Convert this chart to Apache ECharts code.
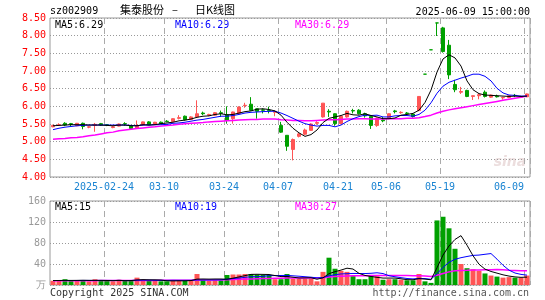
<!DOCTYPE html>
<html>
<head>
<meta charset="utf-8">
<script src="https://cdn.jsdelivr.net/npm/echarts@6/dist/echarts.min.js"></script>
<style>
html, body { margin: 0; padding: 0; background: #fff; }
#chart { width: 545px; height: 300px; }
</style>
</head>
<body>
<div id="chart"></div>
<script>
// trading days shown, one candle each
const dates = [
  '2025-02-11','2025-02-12','2025-02-13','2025-02-14','2025-02-17','2025-02-18','2025-02-19','2025-02-20','2025-02-21','2025-02-24',
  '2025-02-25','2025-02-26','2025-02-27','2025-02-28','2025-03-03','2025-03-04','2025-03-05','2025-03-06','2025-03-07','2025-03-10',
  '2025-03-11','2025-03-12','2025-03-13','2025-03-14','2025-03-17','2025-03-18','2025-03-19','2025-03-20','2025-03-21','2025-03-24',
  '2025-03-25','2025-03-26','2025-03-27','2025-03-28','2025-03-31','2025-04-01','2025-04-02','2025-04-03','2025-04-07','2025-04-08',
  '2025-04-09','2025-04-10','2025-04-11','2025-04-14','2025-04-15','2025-04-16','2025-04-17','2025-04-18','2025-04-21','2025-04-22',
  '2025-04-23','2025-04-24','2025-04-25','2025-04-28','2025-04-29','2025-04-30','2025-05-06','2025-05-07','2025-05-08','2025-05-09',
  '2025-05-12','2025-05-13','2025-05-14','2025-05-15','2025-05-16','2025-05-19','2025-05-20','2025-05-21','2025-05-22','2025-05-23',
  '2025-05-26','2025-05-27','2025-05-28','2025-05-29','2025-05-30','2025-06-03','2025-06-04','2025-06-05','2025-06-06','2025-06-09'
]
const tickDates = ['2025-02-24','2025-03-10','2025-03-24','2025-04-07','2025-04-21','2025-05-06','2025-05-19','2025-06-09']

const open = [
  5.42,5.47,5.52,5.51,5.45,5.52,5.41,5.46,5.51,5.48, 5.40,5.44,5.51,5.45,5.38,5.47,5.56,5.50,5.55,5.58,
  5.57,5.66,5.72,5.63,5.70,5.81,5.75,5.75,5.82,5.76, 5.65,5.80,6.02,6.06,5.93,5.90,5.88,5.83,5.46,5.18,
  4.78,5.15,5.21,5.32,5.52,5.70,5.86,5.79,5.51,5.70, 5.88,5.89,5.79,5.71,5.46,5.61,5.66,5.87,5.82,5.81,
  5.78,5.88,6.91,7.60,8.36,8.22,7.73,6.62,6.40,6.45, 6.28,6.30,6.40,6.26,6.29,6.24,6.25,6.31,6.26,6.27
]
const close = [
  5.46,5.48,5.47,5.49,5.52,5.43,5.42,5.49,5.47,5.47, 5.42,5.50,5.50,5.37,5.46,5.56,5.48,5.55,5.51,5.57,
  5.65,5.68,5.62,5.70,5.79,5.79,5.77,5.82,5.80,5.60, 5.84,5.98,6.03,5.89,5.86,5.89,5.87,5.85,5.27,4.87,
  5.06,5.22,5.33,5.50,5.54,6.09,5.84,5.51,5.72,5.86, 5.87,5.79,5.73,5.46,5.67,5.59,5.79,5.85,5.83,5.80,
  5.71,6.28,6.91,7.60,8.36,7.55,6.89,6.47,6.42,6.28, 6.30,6.33,6.28,6.32,6.27,6.25,6.30,6.30,6.27,6.35
]
const high = [
  5.48,5.52,5.55,5.53,5.53,5.54,5.44,5.53,5.53,5.50, 5.44,5.51,5.55,5.46,5.60,5.57,5.58,5.56,5.57,5.61,
  5.66,5.75,5.74,5.72,6.17,5.85,5.79,5.84,5.88,6.00, 5.85,6.00,6.10,6.26,5.94,5.94,5.99,5.88,5.56,5.18,
  5.09,5.25,5.37,5.52,5.58,6.09,5.92,5.80,5.74,5.88, 5.93,5.92,5.82,5.72,5.68,5.70,5.80,5.90,5.86,5.84,
  5.81,6.28,6.91,7.60,8.36,8.25,7.88,6.75,6.55,6.47, 6.31,6.37,6.45,6.33,6.33,6.27,6.31,6.35,6.30,6.36
]
const low = [
  5.41,5.45,5.44,5.44,5.44,5.35,5.38,5.28,5.45,5.44, 5.38,5.43,5.45,5.36,5.37,5.45,5.47,5.48,5.50,5.55,
  5.56,5.63,5.60,5.62,5.68,5.75,5.72,5.73,5.70,5.51, 5.51,5.78,5.96,5.88,5.65,5.80,5.80,5.72,5.25,4.74,
  4.47,5.12,5.19,5.31,5.48,5.68,5.70,5.45,5.49,5.68, 5.80,5.77,5.68,5.36,5.42,5.55,5.64,5.80,5.79,5.76,
  5.68,5.86,6.91,7.60,7.99,7.52,6.77,6.40,6.35,6.26, 6.18,6.20,6.25,6.24,6.25,6.19,6.23,6.26,6.24,6.26
]
const ma5 = [
  5.45,5.46,5.47,5.48,5.48,5.48,5.47,5.47,5.47,5.46, 5.45,5.47,5.47,5.45,5.45,5.48,5.47,5.48,5.51,5.53,
  5.55,5.59,5.61,5.64,5.69,5.72,5.73,5.77,5.79,5.76, 5.77,5.81,5.85,5.87,5.92,5.93,5.91,5.87,5.75,5.55,
  5.38,5.25,5.15,5.20,5.33,5.54,5.66,5.70,5.74,5.80, 5.76,5.75,5.79,5.74,5.70,5.65,5.65,5.67,5.75,5.77,
  5.80,5.89,6.11,6.46,6.97,7.34,7.46,7.37,7.14,6.72, 6.47,6.36,6.32,6.31,6.30,6.29,6.28,6.29,6.28,6.29
]
const ma10 = [
  5.34,5.38,5.41,5.43,5.45,5.46,5.47,5.47,5.47,5.47, 5.47,5.47,5.47,5.46,5.45,5.47,5.47,5.48,5.48,5.49,
  5.52,5.53,5.55,5.58,5.61,5.63,5.66,5.69,5.72,5.72, 5.74,5.77,5.81,5.83,5.84,5.85,5.86,5.86,5.81,5.74,
  5.66,5.58,5.51,5.47,5.44,5.46,5.46,5.42,5.47,5.57, 5.65,5.71,5.75,5.74,5.75,5.70,5.70,5.73,5.74,5.74,
  5.72,5.77,5.89,6.10,6.37,6.57,6.68,6.74,6.80,6.85, 6.91,6.91,6.85,6.72,6.51,6.38,6.32,6.31,6.29,6.29
]
const ma30 = [
  5.07,5.08,5.09,5.11,5.12,5.14,5.17,5.19,5.22,5.25, 5.27,5.31,5.33,5.35,5.37,5.39,5.41,5.42,5.44,5.46,
  5.47,5.49,5.51,5.52,5.53,5.54,5.56,5.57,5.58,5.59, 5.60,5.61,5.62,5.63,5.63,5.64,5.64,5.64,5.62,5.61,
  5.60,5.60,5.59,5.59,5.60,5.61,5.62,5.62,5.63,5.64, 5.64,5.65,5.65,5.64,5.64,5.64,5.65,5.65,5.65,5.66,
  5.66,5.68,5.71,5.75,5.81,5.86,5.90,5.93,5.96,5.99, 6.02,6.05,6.08,6.11,6.14,6.17,6.20,6.23,6.26,6.29
]

// volume, 万
const volume = [
  8,8,11,8,9,9,7,11,8,8, 7,10,8,9,14,10,8,8,7,7,
  9,9,8,9,21,10,8,9,9,19, 20,20,21,21,20,19,19,11,11,21,
  12,12,12,12,7,25,52,31,27,25, 17,11,11,17,17,10,11,11,10,9,
  9,21,7,4,123,130,108,69,40,32, 30,27,22,18,16,14,15,14,14,18
]
const vma5 = [
  8.5,8.6,8.8,8.7,8.8,9.0,8.8,8.8,8.8,8.6, 8.2,8.8,8.2,8.4,9.6,10.2,9.8,9.8,9.4,8.0,
  7.8,8.0,8.0,8.4,11.2,11.4,11.2,11.4,11.4,11.0, 13.0,15.4,17.8,20.2,20.4,20.2,20.0,18.0,16.0,16.2,
  14.8,13.4,13.6,13.8,11.0,13.6,21.6,25.4,28.4,32.0, 30.4,22.2,18.2,16.2,14.6,13.2,13.2,13.2,11.8,10.2,
  10.0,12.0,11.2,10.0,32.8,57.0,74.4,86.8,94.0,75.8, 55.8,39.6,30.2,25.8,22.6,19.4,17.0,15.4,14.6,15.0
]
const vma10 = [
  8.5,8.5,8.6,8.6,8.6,8.7,8.7,8.7,8.7,8.7, 8.6,8.8,8.5,8.6,9.1,9.2,9.3,9.0,8.9,8.8,
  9.0,8.9,8.9,8.9,9.6,9.6,9.6,9.7,9.9,11.1, 12.2,13.3,14.6,15.8,15.7,16.6,17.7,17.9,18.1,18.3,
  17.5,16.7,15.8,14.9,13.6,14.2,17.5,19.5,21.1,21.5, 22.0,21.9,21.8,22.3,23.3,21.8,17.7,15.7,14.0,12.4,
  11.6,12.6,12.2,10.9,21.5,33.5,43.2,49.0,52.0,54.3, 56.4,57.0,58.5,59.9,49.2,37.6,28.3,22.8,20.2,18.8
]
const vma30 = [
  8.0,8.0,8.1,8.1,8.2,8.2,8.3,8.3,8.4,8.4, 8.5,8.5,8.6,8.6,8.7,8.7,8.8,8.8,8.9,8.9,
  9.0,9.0,9.1,9.1,9.4,9.5,9.5,9.6,9.6,10.0, 10.4,10.8,11.2,11.6,12.0,12.3,12.6,12.7,12.8,13.2,
  13.3,13.4,13.5,13.5,13.4,13.9,15.4,16.1,16.8,17.3, 17.6,17.7,17.8,18.1,18.3,18.3,18.3,18.2,18.1,17.9,
  17.6,17.5,17.0,16.2,18.5,22.0,25.0,27.0,27.8,28.1, 28.5,28.8,29.0,29.1,29.3,29.0,28.0,27.6,27.2,27.0
]

const UP = '#ff5555'
const DOWN = '#00a000'
const MONO = 'DejaVu Sans Mono'
const CJK = 'Noto Sans CJK SC'

const candles = dates.map((d, i) => [open[i], close[i], low[i], high[i]])
const volBars = volume.map((v, i) => ({
  value: v,
  itemStyle: { color: close[i] > open[i] ? UP : DOWN }
}))

const tickIdx = tickDates.map(d => dates.indexOf(d))
const isTick = (index) => tickIdx.indexOf(index) >= 0

function txt (text, x, y, color, font, align) {
  return {
    type: 'text',
    x: x,
    y: y,
    silent: true,
    style: { text: text, fill: color, font: font, align: align || 'left', verticalAlign: 'middle' }
  }
}

const chart = echarts.init(document.getElementById('chart'), null, { renderer: 'canvas' })
chart.setOption({
  animation: false,
  backgroundColor: '#fff',
  grid: [
    { left: 50, top: 18, width: 480, height: 159, show: true, borderColor: '#999', borderWidth: 1 },
    { left: 50, top: 201, width: 480, height: 84, show: true, borderColor: '#999', borderWidth: 1 }
  ],
  xAxis: [
    {
      type: 'category',
      gridIndex: 0,
      data: dates,
      boundaryGap: true,
      axisLine: { show: false },
      axisTick: { show: false },
      axisLabel: {
        interval: (index) => isTick(index),
        margin: 5,
        formatter: (value, index) => {
          const t = index === tickIdx[0] ? value : value.slice(5)
          // labels sit centred on the grid line, the last one ends at it
          return index === tickIdx[tickIdx.length - 1] ? '{r|' + t + '}' : '{c|' + t + '}'
        },
        rich: {
          c: { color: '#1a84d2', fontFamily: MONO, fontSize: 10, padding: [0, 6, 0, 0] },
          r: { color: '#1a84d2', fontFamily: MONO, fontSize: 10, padding: [0, 36, 0, 0] }
        }
      },
      splitLine: {
        show: true,
        interval: (index) => isTick(index),
        lineStyle: { color: '#aaa', width: 1, type: [6, 4] }
      }
    },
    {
      type: 'category',
      gridIndex: 1,
      data: dates,
      boundaryGap: true,
      axisLine: { show: false },
      axisTick: { show: false },
      axisLabel: { show: false },
      splitLine: {
        show: true,
        interval: (index) => isTick(index),
        lineStyle: { color: '#aaa', width: 1, type: [6, 4] }
      }
    }
  ],
  yAxis: [
    {
      type: 'value',
      gridIndex: 0,
      min: 4,
      max: 8.5,
      interval: 0.5,
      axisLine: { show: false },
      axisTick: { show: false },
      axisLabel: {
        color: '#ff0000',
        fontFamily: MONO,
        fontSize: 10,
        margin: 4,
        formatter: (v) => v.toFixed(2)
      },
      splitLine: { lineStyle: { color: '#999', type: [1, 2] } }
    },
    {
      type: 'value',
      gridIndex: 1,
      min: 0,
      max: 160,
      interval: 40,
      axisLine: { show: false },
      axisTick: { show: false },
      axisLabel: {
        color: '#999',
        fontFamily: MONO,
        fontSize: 10,
        margin: 4,
        formatter: (v) => (v === 0 ? '万' : String(v))
      },
      splitLine: { lineStyle: { color: '#999', type: [1, 2] } }
    }
  ],
  series: [
    {
      type: 'candlestick',
      xAxisIndex: 0,
      yAxisIndex: 0,
      data: candles,
      barWidth: 4,
      silent: true,
      itemStyle: {
        color: UP,
        color0: DOWN,
        borderColor: UP,
        borderColor0: DOWN,
        borderColorDoji: DOWN,
        borderWidth: 1
      }
    },
    { type: 'line', xAxisIndex: 0, yAxisIndex: 0, data: ma30, symbol: 'none', silent: true, z: 3, lineStyle: { color: '#ff00ff', width: 1.5 } },
    { type: 'line', xAxisIndex: 0, yAxisIndex: 0, data: ma10, symbol: 'none', silent: true, z: 3, lineStyle: { color: '#0000ff', width: 1 } },
    { type: 'line', xAxisIndex: 0, yAxisIndex: 0, data: ma5, symbol: 'none', silent: true, z: 3, lineStyle: { color: '#000', width: 1 } },
    {
      type: 'bar',
      xAxisIndex: 1,
      yAxisIndex: 1,
      data: volBars,
      barWidth: 5,
      silent: true
    },
    { type: 'line', xAxisIndex: 1, yAxisIndex: 1, data: vma30, symbol: 'none', silent: true, z: 3, lineStyle: { color: '#ff00ff', width: 1.5 } },
    { type: 'line', xAxisIndex: 1, yAxisIndex: 1, data: vma10, symbol: 'none', silent: true, z: 3, lineStyle: { color: '#0000ff', width: 1 } },
    { type: 'line', xAxisIndex: 1, yAxisIndex: 1, data: vma5, symbol: 'none', silent: true, z: 3, lineStyle: { color: '#000', width: 1 } }
  ],
  graphic: [
    txt('sz002909', 50, 11, '#000', '10px ' + MONO),
    txt('集泰股份', 120, 10, '#000', '11px "' + CJK + '"'),
    txt('–', 172, 10, '#000', '11px "' + CJK + '"'),
    txt('日K线图', 195, 10, '#000', '11px "' + CJK + '"'),
    txt('2025-06-09 15:00:00', 530, 12, '#000', '10px ' + MONO, 'right'),
    txt('MA5:' + ma5[ma5.length - 1].toFixed(2), 55, 25, '#000', '10px ' + MONO),
    txt('MA10:' + ma10[ma10.length - 1].toFixed(2), 175, 25, '#0000ff', '10px ' + MONO),
    txt('MA30:' + ma30[ma30.length - 1].toFixed(2), 295, 25, '#ff00ff', '10px ' + MONO),
    txt('MA5:' + Math.round(vma5[vma5.length - 1]), 55, 207, '#000', '10px ' + MONO),
    txt('MA10:' + Math.round(vma10[vma10.length - 1]), 175, 207, '#0000ff', '10px ' + MONO),
    txt('MA30:' + Math.round(vma30[vma30.length - 1]), 295, 207, '#ff00ff', '10px ' + MONO),
    txt('sina', 510, 162, '#ecdede', 'italic bold 14px "DejaVu Sans"', 'center'),
    txt('Copyright 2025 SINA.COM', 50, 293, '#333', '10px ' + MONO),
    txt('http://finance.sina.com.cn', 529, 293, '#555', '10px ' + MONO, 'right')
  ]
})
</script>
</body>
</html>
